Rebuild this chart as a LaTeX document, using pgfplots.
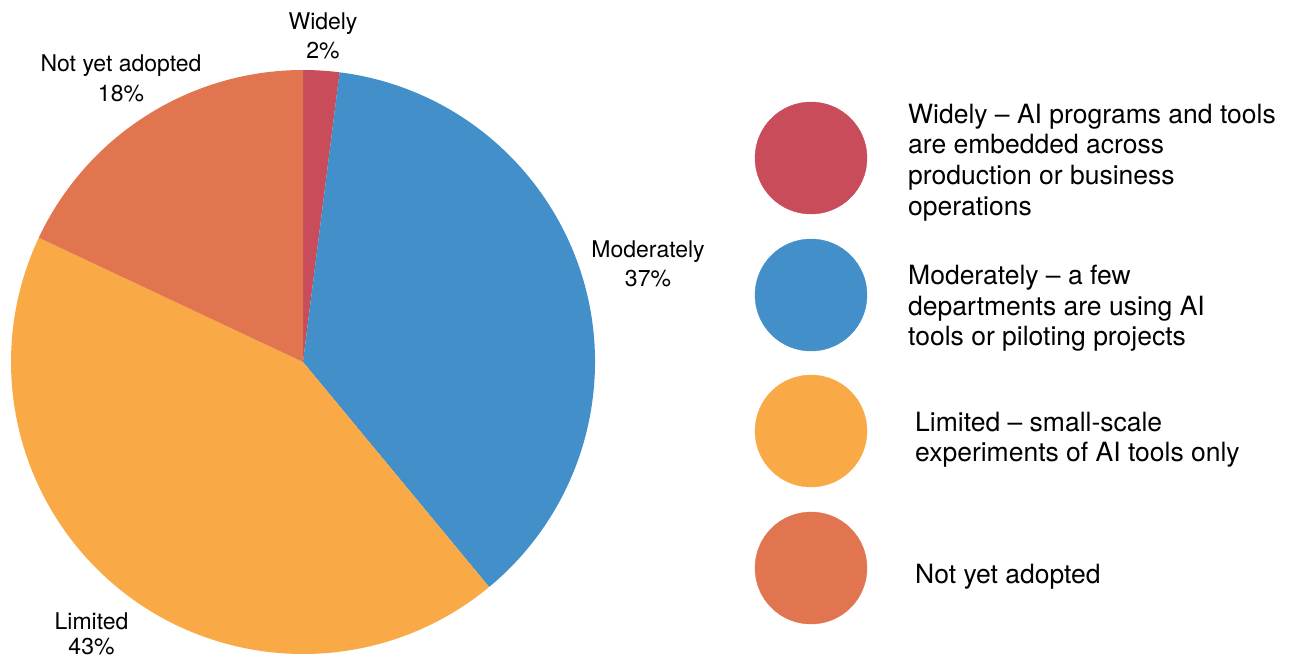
\documentclass[border=0pt]{standalone}
\usepackage{fontspec}
\setmainfont{TeX Gyre Heros}
\usepackage{pgfplots}
\pgfplotsset{compat=1.18}
\definecolor{cW}{HTML}{C84C5A}
\definecolor{cM}{HTML}{438FC9}
\definecolor{cL}{HTML}{F9AA47}
\definecolor{cN}{HTML}{E0754F}
\tikzset{
  lab/.style={font=\fontsize{23}{29}\selectfont, anchor=base, inner sep=0pt},
  leg/.style={font=\fontsize{26.5}{31}\selectfont, anchor=base west, inner sep=0pt},
}
% shares (percent): Widely 2, Moderately 37, Limited 43, Not yet adopted 18
\newcommand\R{292pt}
\newcommand\slice[3]{\fill[#3] (axis cs:303,362) -- ++({#1}:\R) arc[start angle={#1}, end angle={#2}, radius=\R] -- cycle;}
\begin{document}
\begin{tikzpicture}
\begin{axis}[
  scale only axis, width=1290pt, height=657pt,
  xmin=0, xmax=1290, ymin=0, ymax=657, y dir=reverse,
  hide axis, clip=false,
]
% pie slices, clockwise from 12 o'clock
\slice{90}{90-3.6*2}{cW}
\slice{90-3.6*2}{90-3.6*(2+37)}{cM}
\slice{90-3.6*(2+37)}{90-3.6*(2+37+43)}{cL}
\slice{90-3.6*(2+37+43)}{90-3.6*(2+37+43+18)}{cN}
% slice labels
\node[lab] at (axis cs:323,29.3) {Widely};
\node[lab] at (axis cs:323,58.3) {2\%};
\node[lab] at (axis cs:121,71) {Not yet adopted};
\node[lab] at (axis cs:121,101.7) {18\%};
\node[lab] at (axis cs:648,257.3) {Moderately};
\node[lab] at (axis cs:648,286) {37\%};
\node[lab] at (axis cs:91.5,629.3) {Limited};
\node[lab] at (axis cs:91.5,654) {43\%};
% legend markers
\addplot[only marks, mark=*, mark size=56pt, color=cW] coordinates {(811,158)};
\addplot[only marks, mark=*, mark size=56pt, color=cM] coordinates {(811,295)};
\addplot[only marks, mark=*, mark size=56pt, color=cL] coordinates {(811,431)};
\addplot[only marks, mark=*, mark size=56pt, color=cN] coordinates {(811,568)};
% legend texts
\node[leg] at (axis cs:908,123) {Widely – AI programs and tools};
\node[leg] at (axis cs:908,153.8) {are embedded across};
\node[leg] at (axis cs:908,184.6) {production or business};
\node[leg] at (axis cs:908,215.5) {operations};
\node[leg] at (axis cs:908,284.3) {Moderately – a few};
\node[leg] at (axis cs:908,315) {departments are using AI};
\node[leg] at (axis cs:908,345.7) {tools or piloting projects};
\node[leg] at (axis cs:915,431.7) {Limited – small-scale};
\node[leg] at (axis cs:915,461.5) {experiments of AI tools only};
\node[leg] at (axis cs:915,583) {Not yet adopted};
\end{axis}
\pgfresetboundingbox
\path[use as bounding box] (current axis.south west) rectangle (current axis.north east);
\end{tikzpicture}
\end{document}
